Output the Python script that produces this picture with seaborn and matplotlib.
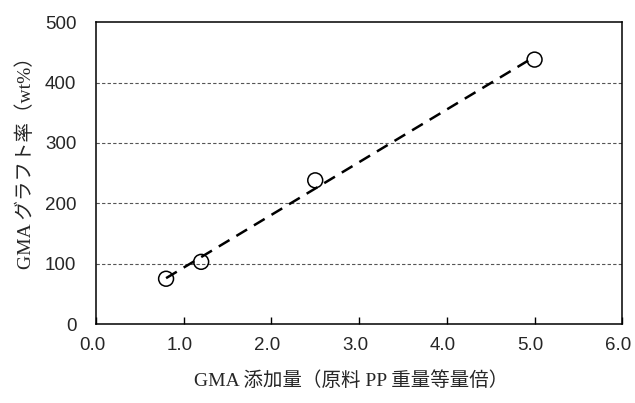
import matplotlib
matplotlib.use("Agg")
import matplotlib.pyplot as plt
import matplotlib.transforms as mtransforms
import seaborn as sns
import pandas as pd

# GMA addition vs. graft ratio
gma_added = [0.8, 1.2, 2.5, 5.0]
graft_ratio = [75, 103, 238, 438]
x_ticks = [0.0, 1.0, 2.0, 3.0, 4.0, 5.0, 6.0]
y_ticks = [0, 100, 200, 300, 400, 500]

df = pd.DataFrame({"gma": gma_added, "graft": graft_ratio})

sns.set_style("white")
plt.rcParams["font.family"] = ["Liberation Sans", "DejaVu Sans"]

fig = plt.figure(figsize=(6.35, 4.03), dpi=100)
ax = fig.add_axes([0.151, 0.196, 0.829, 0.749])

# least-squares trend line over the measured range
sns.regplot(data=df, x="gma", y="graft", ax=ax, scatter=False, ci=None,
            truncate=True,
            line_kws=dict(color="black", lw=1.8, dashes=(5, 3.2), zorder=3))
sns.scatterplot(data=df, x="gma", y="graft", ax=ax, s=115, marker="o",
                facecolor="none", edgecolor="black", linewidth=1.1, zorder=4)

ax.set_xlim(0, 6)
ax.set_ylim(0, 500)
ax.set_xticks(x_ticks)
ax.set_xticklabels([f"{v:.1f}" for v in x_ticks], family="Liberation Sans")
ax.set_yticks(y_ticks)
ax.set_yticklabels([str(v) for v in y_ticks], family="Liberation Sans")

for yv in y_ticks[1:-1]:
    ax.axhline(yv, color="#555555", lw=0.8, dashes=(3, 2), zorder=1)

ax.tick_params(axis="x", direction="in", length=5, width=1, color="black",
               pad=9, labelsize=13.5, bottom=True)
ax.tick_params(axis="y", length=0, pad=14, labelsize=13.5)

# nudge the x tick labels slightly to the left
shift = mtransforms.ScaledTranslation(-4 / 100, 0, fig.dpi_scale_trans)
for lbl in ax.get_xticklabels():
    lbl.set_transform(lbl.get_transform() + shift)

for s in ax.spines.values():
    s.set_color("black")
    s.set_linewidth(1.1)

jp = ["Liberation Serif", "Noto Sans CJK JP"]
ax.set_xlabel("GMA 添加量（原料 PP 重量等量倍）", fontsize=14, family=jp)
ax.xaxis.set_label_coords(0.485, -0.155)
ax.set_ylabel("GMA グラフト率（wt%）", fontsize=14, family=jp)
ax.yaxis.set_label_coords(-0.115, 0.55)

fig.savefig("out.png", dpi=100)
